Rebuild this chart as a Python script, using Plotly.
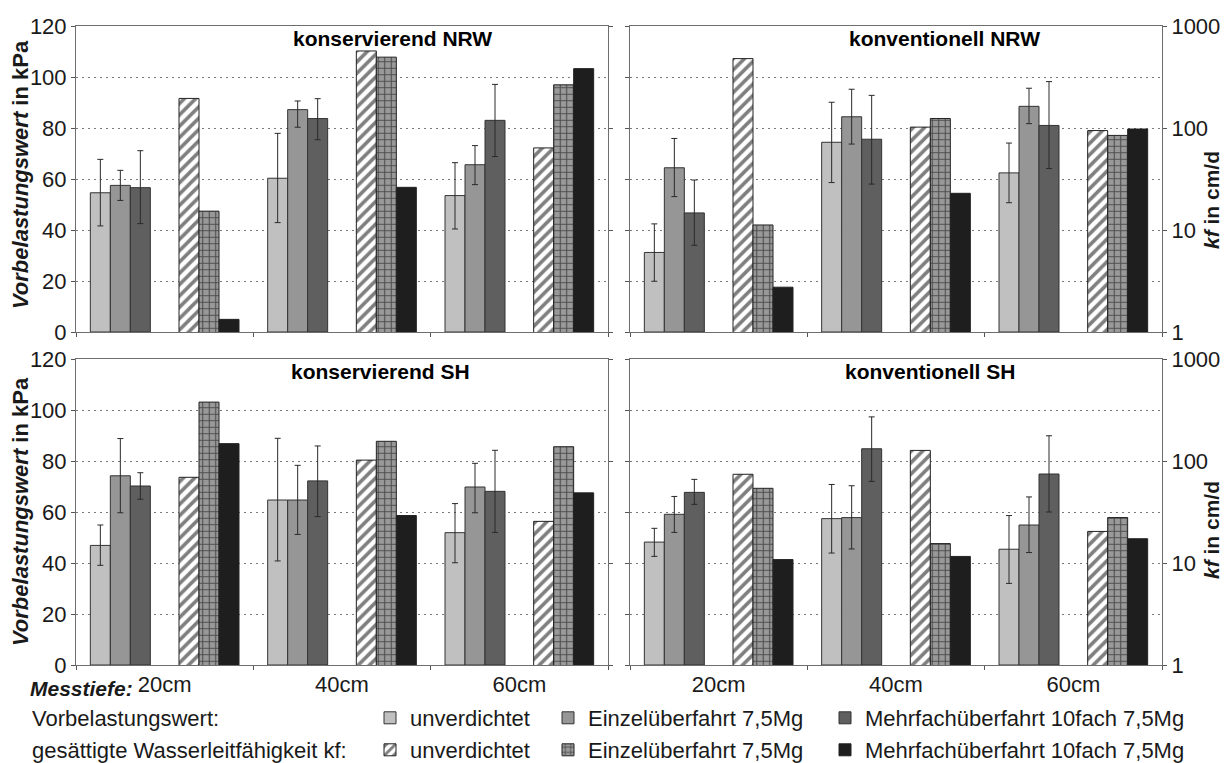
import plotly.graph_objects as go

# ---------------- data ----------------
depths = ["20cm", "40cm", "60cm"]
panel_titles = ["konservierend NRW", "konventionell NRW", "konservierend SH", "konventionell SH"]
treatments = ["unverdichtet", "Einzelüberfahrt 7,5Mg", "Mehrfachüberfahrt 10fach 7,5Mg"]

# Vorbelastungswert in kPa  (rows: treatments, columns: depths 20/40/60 cm)
vb_kons_nrw = [[54.6, 60.3, 53.5], [57.5, 87.2, 65.6], [56.6, 83.7, 83.0]]
vb_kons_nrw_errp = [[13.1, 17.6, 12.9], [5.9, 3.4, 7.5], [14.5, 7.8, 14.1]]
vb_kons_nrw_errm = [[13.0, 17.4, 13.1], [5.9, 6.9, 7.8], [14.1, 8.3, 14.2]]

vb_konv_nrw = [[31.2, 74.4, 62.4], [64.4, 84.4, 88.5], [46.7, 75.6, 81.0]]
vb_konv_nrw_errp = [[11.2, 15.7, 11.7], [11.5, 10.8, 7.1], [12.9, 17.2, 17.2]]
vb_konv_nrw_errm = [[11.3, 15.8, 11.7], [11.3, 10.7, 6.8], [12.7, 17.6, 16.9]]

vb_kons_sh = [[46.9, 64.7, 51.9], [74.2, 64.7, 69.8], [70.2, 72.2, 68.1]]
vb_kons_sh_errp = [[8.0, 24.2, 11.4], [14.6, 13.6, 9.3], [5.2, 13.7, 16.1]]
vb_kons_sh_errm = [[7.8, 23.9, 11.8], [14.5, 13.5, 10.1], [5.2, 14.0, 16.1]]

vb_konv_sh = [[48.2, 57.4, 45.4], [59.1, 57.8, 54.9], [67.7, 84.8, 74.9]]
vb_konv_sh_errp = [[5.4, 13.4, 13.2], [7.0, 12.5, 11.0], [5.1, 12.5, 15.0]]
vb_konv_sh_errm = [[5.6, 13.5, 13.4], [7.1, 12.3, 10.8], [4.7, 12.8, 14.9]]

# gesaettigte Wasserleitfaehigkeit kf in cm/d (rows: treatments, columns: depths)
kf_kons_nrw = [[195, 569, 63.8], [15.3, 495, 265], [1.33, 26.2, 382]]
kf_konv_nrw = [[479, 102, 94.4], [11.2, 124, 84.6], [2.75, 22.9, 97.7]]
kf_kons_sh = [[69.2, 102, 25.6], [378, 156, 138], [148, 29.2, 48.7]]
kf_konv_sh = [[74.1, 127, 20.4], [54.0, 15.5, 27.9], [10.8, 11.6, 17.3]]

vb_all = [vb_kons_nrw, vb_konv_nrw, vb_kons_sh, vb_konv_sh]
vb_errp_all = [vb_kons_nrw_errp, vb_konv_nrw_errp, vb_kons_sh_errp, vb_konv_sh_errp]
vb_errm_all = [vb_kons_nrw_errm, vb_konv_nrw_errm, vb_kons_sh_errm, vb_konv_sh_errm]
kf_all = [kf_kons_nrw, kf_konv_nrw, kf_kons_sh, kf_konv_sh]

# ---------------- styles ----------------
FONT = "Liberation Sans, Arial, sans-serif"
TXT = "#1a1a1a"
vb_colors = ["#c0c0c0", "#969696", "#5f5f5f"]
kf_markers = [
    dict(color="white", pattern=dict(shape="/", fgcolor="#000000", bgcolor="white", size=8, solidity=0.45),
         line=dict(color="#222222", width=1)),
    dict(color="#999999", pattern=dict(shape="+", fgcolor="#000000", bgcolor="#999999", size=6.5, solidity=0.3),
         line=dict(color="#222222", width=1)),
    dict(color="#1e1e1e", line=dict(color="#222222", width=1)),
]
BW = 0.2256  # bar width in category units

W, H = 1224, 763
ML, MR, MT, MB = 76, 62, 26, 98
PW = W - ML - MR
PH = H - MT - MB


def px(x):
    return (x - ML) / PW


def py(y):
    return (H - MB - y) / PH


col_dom = [[0, px(608)], [px(630), 1]]
row_dom = [[py(332), 1], [0, py(359)]]

fig = go.Figure()

for p in range(4):
    xa = "x" if p == 0 else f"x{p+1}"
    ylin = "y" if p == 0 else f"y{2*p+1}"
    ylog = f"y{2*p+2}"
    for k in range(3):
        fig.add_trace(go.Bar(
            x=[2 * d for d in range(3)], y=vb_all[p][k], width=BW, offset=-1.5 * BW + k * BW,
            marker=dict(color=vb_colors[k], line=dict(color="#333333", width=1)),
            error_y=dict(type="data", symmetric=False, array=vb_errp_all[p][k], arrayminus=vb_errm_all[p][k],
                         thickness=1, width=3, color="#2a2a2a"),
            name=treatments[k], xaxis=xa, yaxis=ylin,
            showlegend=(p == 0), legend="legend" if k == 0 else f"legend{k+1}",
        ))
    for k in range(3):
        fig.add_trace(go.Bar(
            x=[2 * d + 1 for d in range(3)], y=kf_all[p][k], width=BW, offset=-1.5 * BW + k * BW,
            marker=kf_markers[k], name=treatments[k], xaxis=xa, yaxis=ylog,
            showlegend=(p == 0), legend=f"legend{k+4}",
        ))

layout = dict(
    width=W, height=H, autosize=False,
    margin=dict(l=ML, r=MR, t=MT, b=MB, pad=0, autoexpand=False),
    paper_bgcolor="white", plot_bgcolor="white",
    barmode="overlay",
    font=dict(family=FONT, size=22, color=TXT),
)

for p in range(4):
    r, c = divmod(p, 2)
    xname = "xaxis" if p == 0 else f"xaxis{p+1}"
    ylin = "yaxis" if p == 0 else f"yaxis{2*p+1}"
    ylog = f"yaxis{2*p+2}"
    xa = "x" if p == 0 else f"x{p+1}"
    ylin_ref = "y" if p == 0 else f"y{2*p+1}"
    layout[xname] = dict(
        domain=col_dom[c], anchor=ylin_ref, range=[-0.5, 5.5], showgrid=False, zeroline=False,
        showline=True, mirror=True, linecolor="#6e6e6e", linewidth=1,
        tickmode="array", tickvals=[0.5, 2.5, 4.5], ticktext=depths, ticks="", ticklen=0,
        showticklabels=(r == 1), tickfont=dict(size=22, color=TXT),
        minor=dict(tickmode="array", tickvals=[-0.5, 1.5, 3.5, 5.5], ticks="outside", ticklen=4,
                   tickcolor="#555555", showgrid=False),
    )
    layout[ylin] = dict(
        domain=row_dom[r], anchor=xa, range=[0, 120], dtick=20, tick0=0,
        showgrid=True, gridcolor="#7a7a7a", gridwidth=1, griddash="1.5px,4.5px", zeroline=False,
        showline=True, mirror=True, linecolor="#6e6e6e", linewidth=1,
        ticks="outside", ticklen=4, tickcolor="#555555",
        showticklabels=(c == 0), tickfont=dict(size=22, color=TXT),
    )
    layout[ylog] = dict(
        type="log", range=[0, 3], overlaying=ylin_ref, anchor=xa, side="right",
        showgrid=False, zeroline=False, showline=False,
        tickmode="array", tickvals=[1, 10, 100, 1000], ticktext=["1", "10", "100", "1000"],
        ticks="outside", ticklen=4, tickcolor="#555555",
        showticklabels=(c == 1), tickfont=dict(size=22, color=TXT),
    )

# legends (one per item, aligned in two rows / three columns)
leg_x = [px(370), px(548), px(825)]
leg_y = [py(718), py(750)]
for i in range(6):
    key = "legend" if i == 0 else f"legend{i+1}"
    layout[key] = dict(
        x=leg_x[i % 3], y=leg_y[i // 3], xanchor="left", yanchor="middle",
        orientation="h", bgcolor="rgba(0,0,0,0)", borderwidth=0,
        font=dict(size=22, color=TXT, family=FONT),
    )

ann = []
title_pos = [(392, 39), (944, 39), (380, 371), (930, 371)]
for p in range(4):
    ann.append(dict(text=f"<b>{panel_titles[p]}</b>", x=px(title_pos[p][0]), y=py(title_pos[p][1]),
                    xref="paper", yref="paper", showarrow=False, xanchor="center", yanchor="middle",
                    font=dict(size=21, color="#000000")))
for yc in (175, 512):
    ann.append(dict(text="<b><i>Vorbelastungswert</i> in kPa</b>", x=px(20), y=py(yc), xref="paper",
                    yref="paper", showarrow=False, textangle=-90, xanchor="center", yanchor="middle",
                    font=dict(size=22, color=TXT)))
for yc in (200, 530):
    ann.append(dict(text="<b><i>kf</i> in cm/d</b>", x=px(1211), y=py(yc), xref="paper",
                    yref="paper", showarrow=False, textangle=-90, xanchor="center", yanchor="middle",
                    font=dict(size=21, color=TXT)))
ann.append(dict(text="<b><i>Messtiefe:</i></b>", x=px(28), y=py(688), xref="paper", yref="paper",
                showarrow=False, xanchor="left", yanchor="middle", font=dict(size=21, color=TXT)))
ann.append(dict(text="Vorbelastungswert:", x=px(30), y=py(718), xref="paper", yref="paper",
                showarrow=False, xanchor="left", yanchor="middle", font=dict(size=22, color=TXT)))
ann.append(dict(text="gesättigte Wasserleitfähigkeit kf:", x=px(30), y=py(750), xref="paper", yref="paper",
                showarrow=False, xanchor="left", yanchor="middle", font=dict(size=22, color=TXT)))
layout["annotations"] = ann

fig.update_layout(**layout)

fig.write_html("out.html", config={"displayModeBar": False},
               post_script="document.body.style.margin='0';")
